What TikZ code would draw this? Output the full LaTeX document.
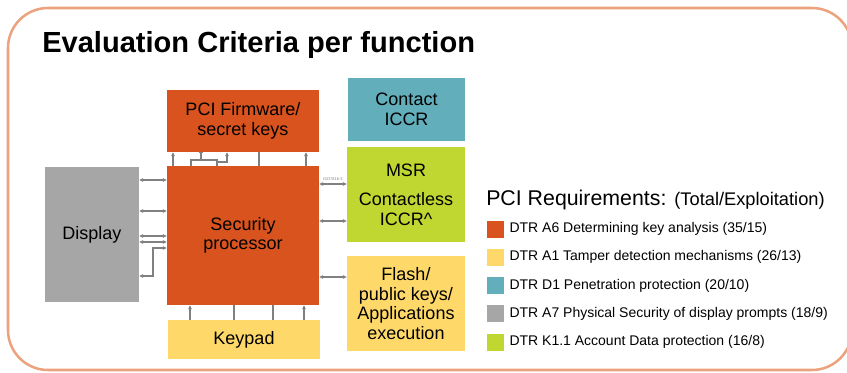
\documentclass[tikz,border=0pt]{standalone}
\usepackage{fontspec}
\setmainfont{Liberation Sans}
\usepackage{xcolor}
\usetikzlibrary{arrows.meta, calc}
\definecolor{pcirot}{RGB}{217,83,30}
\definecolor{pcigelb}{RGB}{254,217,106}
\definecolor{pcitk}{RGB}{98,174,187}
\definecolor{pcigrau}{RGB}{166,166,166}
\definecolor{pcigruen}{RGB}{191,215,48}
\definecolor{rahmen}{RGB}{236,162,126}
\definecolor{leitung}{RGB}{128,128,128}
\tikzset{
  kasten/.style 2 args={minimum width=#1*0.75pt, minimum height=#2*0.75pt,
    inner sep=0pt, align=center, font=\fontsize{13.5}{14.6}\selectfont},
  verb/.style={draw=leitung, line width=0.8pt}
}

\begin{document}
\begin{tikzpicture}[x=0.75pt, y=-0.75pt, >={Stealth[length=3pt,width=2.8pt]}]

            \useasboundingbox (0,0) rectangle (847,372);

            % Rahmen und Titel
            \draw[rahmen, line width=1.9pt, rounded corners=30pt] (8,8) rectangle (852,370);
            \node[anchor=base west, inner sep=0pt, font=\bfseries\fontsize{21.8}{24}\selectfont] (titel) at (42,52) {Evaluation Criteria per function};

            % Bloecke
            \node[kasten={152}{62}, fill=pcirot] (fw) at (243,121) {PCI Firmware/\\secret keys};
            \node[kasten={152}{139}, fill=pcirot] (sec) at (243,235.5) {Security\\processor};
            \node[kasten={94}{135}, fill=pcigrau] (disp) at (92,234.5) {Display};
            \node[kasten={152}{39}, fill=pcigelb] (keypad) at (244,339.5) {Keypad};
            \node[kasten={117}{63}, fill=pcitk] (cicc) at (406.5,109.5) {Contact\\ICCR};
            \node[kasten={118}{95}, fill=pcigruen] (msr) at (406,194.5) {MSR\\[7.5pt]Contactless\\ICCR\textasciicircum};
            \node[kasten={118}{95}, fill=pcigelb] (flash) at (406,303.5) {Flash/\\public keys/\\Applications\\execution};

            % Display <-> Prozessor
            \foreach \y in {180,211,236,242}
              \draw[verb, <->] (disp.east |- 0,\y) -- (sec.west |- 0,\y);
            \draw[verb, <->] (disp.east |- 0,276) -- (153,276) |- (sec.west |- 0,248);

            % Prozessor <-> MSR und Flash
            \draw[verb, <->] (sec.east |- 0,184) -- (msr.west |- 0,184);
            \node[font=\fontsize{3}{3}\selectfont, text=leitung, inner sep=0pt] (iso) at (333,179.5) {ISO7816-3};
            \draw[verb, <->] (sec.east |- 0,221) -- (msr.west |- 0,221);
            \draw[verb, <->] (sec.east |- 0,277) -- (flash.west |- 0,277);

            % Prozessor -> Firmware
            \draw[verb, ->] (sec.north -| 173,0) -- (fw.south -| 173,0);
            \draw[verb] (sec.north -| 191,0) -- (191,160) -- (217,160) -- (sec.north -| 217,0);
            \draw[verb, -{Bar[width=3pt]}] (201,160) -- (fw.south -| 201,0);
            \draw[verb, ->] (217,162) -- (227,162) -- (fw.south -| 227,0);
            \draw[verb] (sec.north -| 259,0) -- (fw.south -| 259,0);
            \draw[verb, ->] (sec.north -| 306,0) -- (fw.south -| 306,0);

            % Keypad -> Prozessor
            \draw[verb, ->] (keypad.north -| 190,0) -- (sec.south -| 190,0);
            \draw[verb] (keypad.north -| 234,0) -- (sec.south -| 234,0);
            \draw[verb] (keypad.north -| 273,0) -- (sec.south -| 273,0);
            \draw[verb, ->] (keypad.north -| 304,0) -- (sec.south -| 304,0);

            % Legende
            \node[anchor=base west, inner sep=0pt] (legtitel) at (486,205) {\fontsize{16}{18}\selectfont PCI Requirements: \fontsize{13.7}{16}\selectfont(Total/Exploitation)};
            \foreach \farbe/\beschr [count=\i] in {
                pcirot/{DTR A6 Determining key analysis (35/15)},
                pcigelb/{DTR A1 Tamper detection mechanisms (26/13)},
                pcitk/{DTR D1 Penetration protection (20/10)},
                pcigrau/{DTR A7 Physical Security of display prompts (18/9)},
                pcigruen/{DTR K1.1 Account Data protection (16/8)}} {
              \node[fill=\farbe, minimum size=12.75pt, inner sep=0pt] (leg\i) at (495.5,{229+28.25*(\i-1)}) {};
              \node[anchor=west, inner sep=0pt, font=\fontsize{10.5}{12}\selectfont] (legtext\i) at ($(leg\i.east)+(5,0)$) {\beschr};
            }

         \end{tikzpicture}
\end{document}
